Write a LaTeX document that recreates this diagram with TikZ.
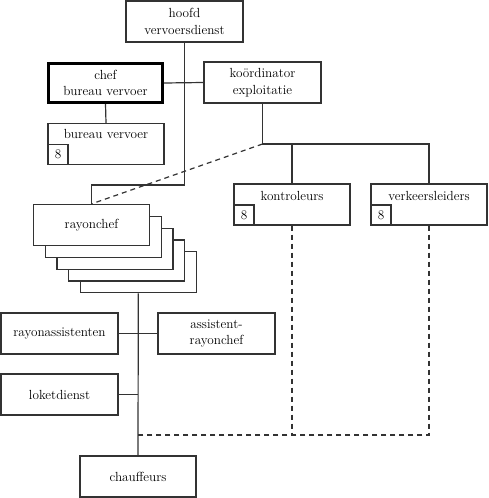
\documentclass[tikz,border=0pt]{standalone}
\begin{document}
\begin{tikzpicture}[x=1pt,y=-1pt,
  every node/.style={font=\fontsize{13.2}{16.5}\selectfont},
  box/.style={draw=black!80, line width=1.2pt, minimum width=116pt, minimum height=41pt, inner sep=0pt, align=center, fill=white},
  numbox/.style={draw=black!80, line width=1.2pt, minimum width=20pt, minimum height=20pt, inner sep=0pt, anchor=south west},
  conn/.style={draw=black!80, line width=1.2pt},
  dconn/.style={draw=black!80, line width=1.2pt, dash pattern=on 5pt off 4pt}]
\useasboundingbox (0,0) rectangle (489,498);
% boxes
\node[box, minimum width=117pt] (hoofd) at (184.5,21.5) {hoofd\\vervoersdienst};
\node[box, line width=3pt, draw=black, minimum width=114pt, minimum height=39pt] (chef) at (105.5,83) {chef\\bureau vervoer};
\node[box, minimum width=117pt] (koord) at (262.5,82.5) {koördinator\\exploitatie};
\node[box] (bv) at (106,144) {};
\node (bvt) at ([yshift=10pt]bv.center) {bureau vervoer};
\node[numbox] (bv8) at (bv.south west) {8};
\node[box] (kon) at (292,204.5) {};
\node (kont) at ([yshift=9pt]kon.center) {kontroleurs};
\node[numbox] (kon8) at (kon.south west) {8};
\node[box] (ver) at (429,204.5) {};
\node (vert) at ([yshift=9pt]ver.center) {verkeersleiders};
\node[numbox] (ver8) at (ver.south west) {8};
% rayonchef stack
\node[box] (r4) at (138.3,272.2) {};
\node[box] (r3) at (126.6,260.4) {};
\node[box] (r2) at (114.9,248.6) {};
\node[box] (r1) at (103.2,236.8) {};
\node[box] (r0) at (91.5,225) {rayonchef};
\node[box, minimum width=117pt] (ra) at (59.5,333.5) {rayonassistenten};
\node[box, minimum width=117pt] (ar) at (216.5,333.5) {assistent-\\rayonchef};
\node[box, minimum width=117pt] (lok) at (59.5,394.5) {loketdienst};
\node[box] (ch) at (138,476.5) {chauffeurs};
% connectors
\coordinate (j1) at (184.5,185);
\draw[conn] (hoofd.south) -- (j1) -| (r0.north);
\draw[conn] (chef.east) -- (koord.west);
\draw[conn] (chef.south) -- (bv.north);
\coordinate (k1) at (262.5,144);
\draw[conn] (koord.south) -- (k1) -| (ver.north);
\draw[conn] (kon.north) -- (kon.north |- k1);
\draw[dconn] (k1) -- (r0.north);
\draw[conn] (r4.south) -- (ch.north);
\draw[conn] (ra.east) -- (ar.west);
\draw[conn] (lok.east) -- (lok.east -| ch.north);
\coordinate (d1) at (138,435);
\draw[dconn] (ver.south) |- (d1);
\draw[dconn] (kon.south) -- (kon.south |- d1);
\end{tikzpicture}
\end{document}
